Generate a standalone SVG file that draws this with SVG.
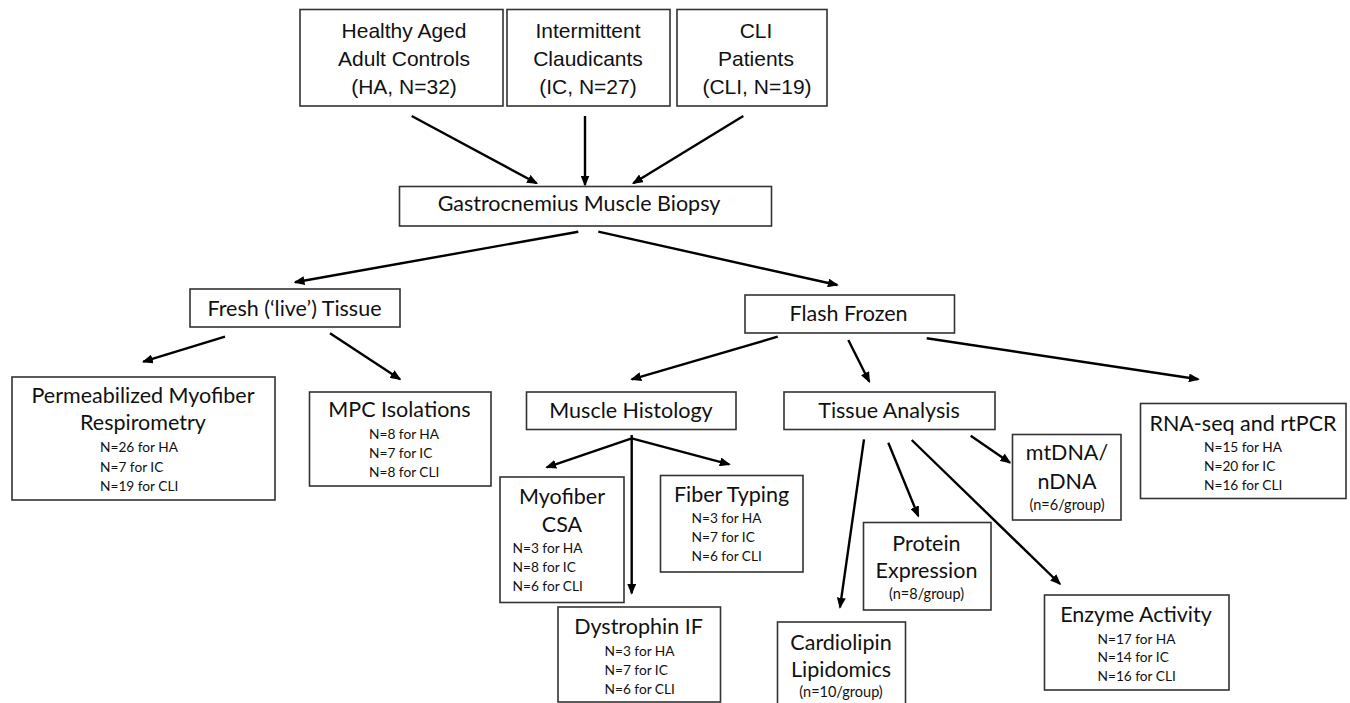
<svg xmlns="http://www.w3.org/2000/svg" width="1350" height="703" viewBox="0 0 1350 703">
<defs>
<style>
.box{fill:#fff;stroke:#333;stroke-width:1.6}
.a{font-family:"Liberation Sans",Arial,sans-serif;font-size:21px;fill:#111;text-anchor:middle}
.c{font-family:Lato,"Open Sans",sans-serif;font-size:21.5px;fill:#111;text-anchor:middle}
.s{font-family:Lato,"Open Sans",sans-serif;font-size:13.7px;fill:#111}
.sm{font-family:Lato,"Open Sans",sans-serif;font-size:14.5px;fill:#111;text-anchor:middle}
.e{stroke:#000;stroke-width:2.4;fill:none;marker-end:url(#ah)}
</style>
<marker id="ah" markerUnits="userSpaceOnUse" markerWidth="11" markerHeight="9" refX="9.5" refY="4.5" orient="auto">
<path d="M0,0 L11,4.5 L0,9 z" fill="#000"/>
</marker>
</defs>
<rect width="1350" height="703" fill="#fff"/>

<g id="connectors">
<line class="e" x1="411.7" y1="116" x2="536.7" y2="183.3"/>
<line class="e" x1="585" y1="116" x2="585" y2="185"/>
<line class="e" x1="743.3" y1="116" x2="633.3" y2="183.3"/>
<line class="e" x1="578.3" y1="231.7" x2="295" y2="282.3"/>
<line class="e" x1="598.3" y1="231.7" x2="837.3" y2="285"/>
<line class="e" x1="225" y1="336.7" x2="143.3" y2="361.7"/>
<line class="e" x1="330" y1="333.3" x2="400" y2="379.3"/>
<line class="e" x1="777.7" y1="336.7" x2="631.7" y2="379.3"/>
<line class="e" x1="848.3" y1="340" x2="869.3" y2="381.7"/>
<line class="e" x1="926.7" y1="338.3" x2="1198.3" y2="379.3"/>
<line class="e" x1="631.7" y1="438.3" x2="546.7" y2="467.3"/>
<line class="e" x1="631.7" y1="438.3" x2="729.3" y2="464.3"/>
<line class="e" x1="631.7" y1="435" x2="631.7" y2="593.3"/>
<line class="e" x1="864" y1="439.3" x2="840" y2="607.3"/>
<line class="e" x1="888.3" y1="442.7" x2="918.3" y2="516"/>
<line class="e" x1="911.7" y1="440" x2="1060" y2="584"/>
<line class="e" x1="970.7" y1="435.7" x2="1010" y2="462.7"/>
</g>

<g id="ha">
<rect class="box" x="300" y="9.5" width="203" height="96.5"/>
<text class="a" x="404" y="37.5">Healthy Aged</text>
<text class="a" x="404" y="65.5">Adult Controls</text>
<text class="a" x="404" y="93.5">(HA, N=32)</text>
</g>
<g id="ic">
<rect class="box" x="507" y="9.5" width="163" height="96.5"/>
<text class="a" x="588" y="37.5">Intermittent</text>
<text class="a" x="588" y="65.5">Claudicants</text>
<text class="a" x="588" y="93.5">(IC, N=27)</text>
</g>
<g id="cli">
<rect class="box" x="677" y="9.5" width="150" height="96.5"/>
<text class="a" x="756" y="37.5">CLI</text>
<text class="a" x="756" y="65.5">Patients</text>
<text class="a" x="757" y="93.5">(CLI, N=19)</text>
</g>
<g id="biopsy">
<rect class="box" x="399.5" y="186.5" width="372" height="39.5"/>
<text class="c" x="579" y="210.5">Gastrocnemius Muscle Biopsy</text>
</g>
<g id="fresh">
<rect class="box" x="190" y="289" width="210" height="38"/>
<text class="c" x="294.5" y="316">Fresh (‘live’) Tissue</text>
</g>
<g id="flash">
<rect class="box" x="745" y="295" width="209.5" height="38"/>
<text class="c" x="848.5" y="321">Flash Frozen</text>
</g>
<g id="perm">
<rect class="box" x="12" y="377" width="263" height="123"/>
<text class="c" x="143" y="403">Permeabilized Myofiber</text>
<text class="c" x="143" y="430">Respirometry</text>
<text class="s" x="100" y="452">N=26 for HA</text>
<text class="s" x="100" y="471.5">N=7 for IC</text>
<text class="s" x="100" y="490.5">N=19 for CLI</text>
</g>
<g id="mpc">
<rect class="box" x="309.5" y="392" width="181.5" height="94"/>
<text class="c" x="399.5" y="417">MPC Isolations</text>
<text class="s" x="369" y="438.5">N=8 for HA</text>
<text class="s" x="369" y="457.5">N=7 for IC</text>
<text class="s" x="369" y="476.5">N=8 for CLI</text>
</g>
<g id="histology">
<rect class="box" x="526.5" y="392" width="209.5" height="37.5"/>
<text class="c" x="631" y="418">Muscle Histology</text>
</g>
<g id="tissue">
<rect class="box" x="784" y="392" width="211" height="37.5"/>
<text class="c" x="889" y="418">Tissue Analysis</text>
</g>
<g id="rna">
<rect class="box" x="1140.5" y="403.5" width="205.5" height="95"/>
<text class="c" x="1243" y="431">RNA-seq and rtPCR</text>
<text class="s" x="1204" y="452">N=15 for HA</text>
<text class="s" x="1204" y="470.5">N=20 for IC</text>
<text class="s" x="1204" y="489.5">N=16 for CLI</text>
</g>
<g id="csa">
<rect class="box" x="500" y="477" width="124" height="125.5"/>
<text class="c" x="562" y="504">Myofiber</text>
<text class="c" x="562" y="531.5">CSA</text>
<text class="s" x="512.5" y="553">N=3 for HA</text>
<text class="s" x="512.5" y="572">N=8 for IC</text>
<text class="s" x="512.5" y="591">N=6 for CLI</text>
</g>
<g id="fiber">
<rect class="box" x="660.5" y="475.5" width="142.5" height="96.5"/>
<text class="c" x="731.5" y="502">Fiber Typing</text>
<text class="s" x="691.5" y="523">N=3 for HA</text>
<text class="s" x="691.5" y="541.5">N=7 for IC</text>
<text class="s" x="691.5" y="560.5">N=6 for CLI</text>
</g>
<g id="dystrophin">
<rect class="box" x="558" y="607" width="162.5" height="95"/>
<text class="c" x="638.5" y="634">Dystrophin IF</text>
<text class="s" x="604.5" y="656">N=3 for HA</text>
<text class="s" x="604.5" y="674.5">N=7 for IC</text>
<text class="s" x="604.5" y="693.5">N=6 for CLI</text>
</g>
<g id="mtdna">
<rect class="box" x="1012.5" y="434.5" width="108.5" height="85.5"/>
<text class="c" x="1067" y="460">mtDNA/</text>
<text class="c" x="1067" y="488.5">nDNA</text>
<text class="sm" x="1067" y="509.5">(n=6/group)</text>
</g>
<g id="protein">
<rect class="box" x="863.5" y="522.5" width="127.5" height="87.5"/>
<text class="c" x="926.5" y="551">Protein</text>
<text class="c" x="926.5" y="578">Expression</text>
<text class="sm" x="926.5" y="599">(n=8/group)</text>
</g>
<g id="enzyme">
<rect class="box" x="1044.5" y="595" width="184.5" height="95"/>
<text class="c" x="1136" y="622">Enzyme Activity</text>
<text class="s" x="1097.5" y="643.5">N=17 for HA</text>
<text class="s" x="1097.5" y="662">N=14 for IC</text>
<text class="s" x="1097.5" y="681">N=16 for CLI</text>
</g>
<g id="cardiolipin">
<rect class="box" x="777.5" y="622" width="128" height="82"/>
<text class="c" x="841" y="649.5">Cardiolipin</text>
<text class="c" x="841" y="677">Lipidomics</text>
<text class="sm" x="841" y="697">(n=10/group)</text>
</g>
</svg>
